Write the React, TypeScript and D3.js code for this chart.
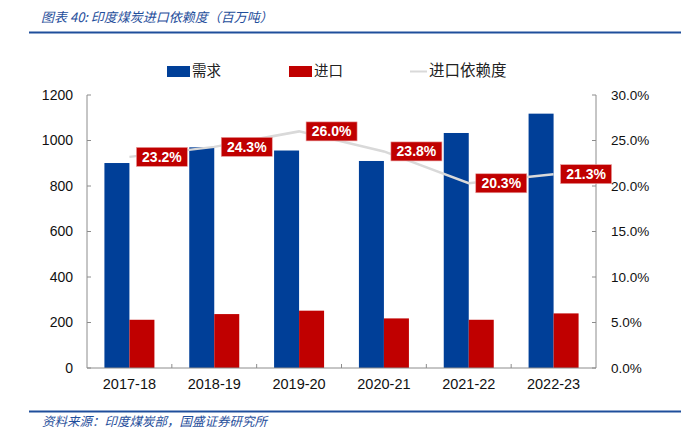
import React from "react";
import * as d3 from "d3";

const categories = ["2017-18", "2018-19", "2019-20", "2020-21", "2021-22", "2022-23"];
const demand = [901, 970, 956, 910, 1033, 1118];
const imports = [212, 237, 252, 218, 212, 240];
const dependence = [23.2, 24.3, 26.0, 23.8, 20.3, 21.3];
const leftTicks = [0, 200, 400, 600, 800, 1000, 1200];
const rightTicks = [0, 5, 10, 15, 20, 25, 30];

const W = 690;
const H = 439;
const BLUE = "#003f98";
const RED = "#c00000";
const GRAY_LINE = "#d9d9d9";
const AXIS = "#8c8c8c";
const NUM_FONT = "'Liberation Sans', Arial, sans-serif";
const CJK_FONT = "'Noto Sans CJK SC', sans-serif";

export default function App() {
  const left = 87;
  const right = 596;
  const top = 95;
  const bottom = 368;

  const x = d3.scaleBand<string>().domain(categories).range([left, right]).padding(0);
  const yL = d3.scaleLinear().domain([0, 1200]).range([bottom, top]);
  const yR = d3.scaleLinear().domain([0, 30]).range([bottom, top]);
  const barW = 25;

  const linePts: [number, number][] = dependence.map((v, i) => [
    (x(categories[i]) as number) + x.bandwidth() / 2,
    yR(v),
  ]);
  const line = d3.line()(linePts) || "";

  return (
    <svg
      width={W}
      height={H}
      style={{ position: "absolute", left: 0, top: 0, background: "#fff" }}
    >
      {/* Title */}
      <text
        x={41}
        y={22}
        fontFamily={CJK_FONT}
        fontStyle="italic"
        fontSize={13}
        fill="#1f4e9b"
      >
        图表 40:  印度煤炭进口依赖度（百万吨）
      </text>
      <line x1={29} x2={681} y1={32.5} y2={32.5} stroke="#1f4e9b" strokeWidth={2} />

      {/* Legend */}
      <rect x={167} y={66} width={23} height={11} fill={BLUE} />
      <text x={192} y={76} fontFamily={CJK_FONT} fontSize={14.5} fill="#222">需求</text>
      <rect x={289} y={66} width={23} height={11} fill={RED} />
      <text x={314} y={76} fontFamily={CJK_FONT} fontSize={14.5} fill="#222">进口</text>
      <line x1={410} x2={427} y1={71.5} y2={71.5} stroke={GRAY_LINE} strokeWidth={2} />
      <text x={429} y={76} fontFamily={CJK_FONT} fontSize={15.5} fill="#222">进口依赖度</text>

      {/* Bars */}
      {categories.map((c, i) => {
        const cx = (x(c) as number) + x.bandwidth() / 2;
        return (
          <g key={c}>
            <rect
              x={cx - barW}
              y={yL(demand[i])}
              width={barW}
              height={bottom - yL(demand[i])}
              fill={BLUE}
            />
            <rect
              x={cx}
              y={yL(imports[i])}
              width={barW}
              height={bottom - yL(imports[i])}
              fill={RED}
            />
          </g>
        );
      })}

      {/* Axes */}
      <line x1={left} x2={left} y1={top} y2={bottom} stroke={AXIS} strokeWidth={1} />
      <line x1={right} x2={right} y1={top} y2={bottom} stroke={AXIS} strokeWidth={1} />
      <line x1={left} x2={right} y1={bottom} y2={bottom} stroke={AXIS} strokeWidth={1} />
      {leftTicks.map((t) => (
        <g key={"l" + t}>
          <line x1={left} x2={left + 4} y1={yL(t)} y2={yL(t)} stroke={AXIS} />
          <text
            x={73}
            y={yL(t)}
            dy="0.35em"
            textAnchor="end"
            fontFamily={NUM_FONT}
            fontSize={14}
            fill="#111"
          >
            {t}
          </text>
        </g>
      ))}
      {rightTicks.map((t) => (
        <g key={"r" + t}>
          <line x1={right - 4} x2={right} y1={yR(t)} y2={yR(t)} stroke={AXIS} />
          <text
            x={611}
            y={yR(t)}
            dy="0.35em"
            textAnchor="start"
            fontFamily={NUM_FONT}
            fontSize={13.5}
            fill="#111"
          >
            {t.toFixed(1) + "%"}
          </text>
        </g>
      ))}
      {categories.slice(1).map((c) => (
        <line
          key={"t" + c}
          x1={x(c) as number}
          x2={x(c) as number}
          y1={bottom}
          y2={bottom - 4}
          stroke={AXIS}
        />
      ))}
      {categories.map((c) => (
        <text
          key={"x" + c}
          x={(x(c) as number) + x.bandwidth() / 2}
          y={389}
          textAnchor="middle"
          fontFamily={NUM_FONT}
          fontSize={14.5}
          fill="#111"
        >
          {c}
        </text>
      ))}

      {/* Dependence line */}
      <path d={line} fill="none" stroke={GRAY_LINE} strokeWidth={2.5} />
      {linePts.map(([px, py], i) => (
        <g key={"lab" + i}>
          <rect
            x={px + 7}
            y={py - 9.5}
            width={51}
            height={19}
            fill={RED}
            stroke="#e8a0a0"
            strokeWidth={0.6}
          />
          <text
            x={px + 7 + 25.5}
            y={py}
            dy="0.36em"
            textAnchor="middle"
            fontFamily={NUM_FONT}
            fontWeight="bold"
            fontSize={14}
            fill="#fff"
          >
            {dependence[i].toFixed(1) + "%"}
          </text>
        </g>
      ))}

      {/* Footer */}
      <line x1={29} x2={681} y1={411.5} y2={411.5} stroke="#1f4e9b" strokeWidth={2} />
      <text
        x={42}
        y={425.5}
        fontFamily={CJK_FONT}
        fontStyle="italic"
        fontSize={12.5}
        fill="#1f4e9b"
      >
        资料来源：印度煤炭部，国盛证券研究所
      </text>
    </svg>
  );
}
